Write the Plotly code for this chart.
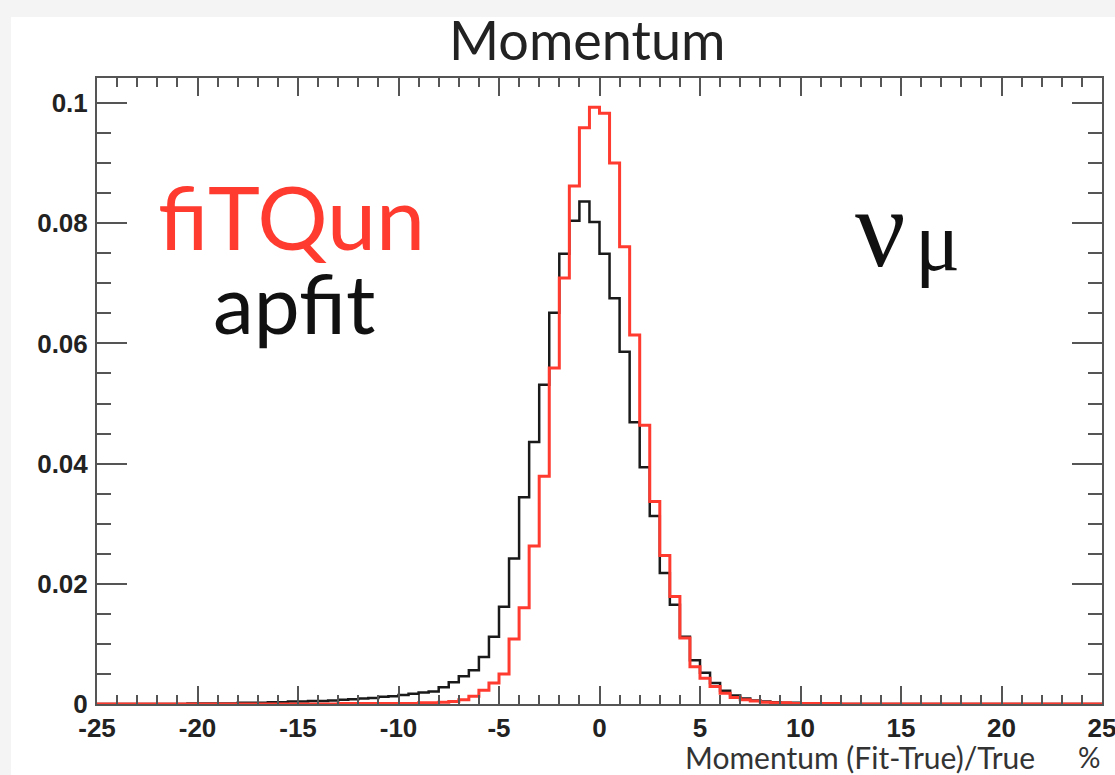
import numpy as np
import plotly.graph_objects as go

# ---------------- data ----------------
bin_width = 0.5
bin_low = list(np.arange(-25.0, 25.0, bin_width))  # 100 bins, -25 .. 25

# fiTQun (red) bin contents, keyed by bin low edge
fitqun_core = {
    -13.0: 0.0001, -12.5: 0.0001, -12.0: 0.0001, -11.5: 0.0001, -11.0: 0.0001,
    -10.5: 0.0001, -10.0: 0.0001, -9.5: 0.0001, -9.0: 0.0002, -8.5: 0.0002,
    -8.0: 0.0003, -7.5: 0.0004, -7.0: 0.0007, -6.5: 0.0013, -6.0: 0.0023,
    -5.5: 0.0035, -5.0: 0.0050, -4.5: 0.0108, -4.0: 0.0160, -3.5: 0.0263,
    -3.0: 0.0379, -2.5: 0.0559, -2.0: 0.0709, -1.5: 0.0862, -1.0: 0.0959,
    -0.5: 0.0993, 0.0: 0.0983, 0.5: 0.0900, 1.0: 0.0761, 1.5: 0.0614,
    2.0: 0.0464, 2.5: 0.0337, 3.0: 0.0247, 3.5: 0.0179, 4.0: 0.0110,
    4.5: 0.0062, 5.0: 0.0043, 5.5: 0.0029, 6.0: 0.0018, 6.5: 0.0011,
    7.0: 0.0007, 7.5: 0.0005, 8.0: 0.0003, 8.5: 0.0002, 9.0: 0.0002,
    9.5: 0.0001, 10.0: 0.0001, 10.5: 0.0001, 11.0: 0.0001, 11.5: 0.0001,
}

# apfit (black) bin contents, keyed by bin low edge
apfit_core = {
    -20.5: 0.0001, -20.0: 0.0001, -19.5: 0.0001, -19.0: 0.0001, -18.5: 0.0001,
    -18.0: 0.0002, -17.5: 0.0002, -17.0: 0.0002, -16.5: 0.0003, -16.0: 0.0003,
    -15.5: 0.0004, -15.0: 0.0004, -14.5: 0.0005, -14.0: 0.0005, -13.5: 0.0006,
    -13.0: 0.0007, -12.5: 0.0008, -12.0: 0.0009, -11.5: 0.0010, -11.0: 0.0012,
    -10.5: 0.0013, -10.0: 0.0015, -9.5: 0.0017, -9.0: 0.0019, -8.5: 0.0021,
    -8.0: 0.0028, -7.5: 0.0036, -7.0: 0.0046, -6.5: 0.0056, -6.0: 0.0078,
    -5.5: 0.0112, -5.0: 0.0162, -4.5: 0.0242, -4.0: 0.0344, -3.5: 0.0436,
    -3.0: 0.0531, -2.5: 0.0651, -2.0: 0.0749, -1.5: 0.0804, -1.0: 0.0836,
    -0.5: 0.0802, 0.0: 0.0749, 0.5: 0.0675, 1.0: 0.0586, 1.5: 0.0469,
    2.0: 0.0394, 2.5: 0.0313, 3.0: 0.0218, 3.5: 0.0165, 4.0: 0.0112,
    4.5: 0.0073, 5.0: 0.0052, 5.5: 0.0035, 6.0: 0.0022, 6.5: 0.0014,
    7.0: 0.0009, 7.5: 0.0006, 8.0: 0.0004, 8.5: 0.0003, 9.0: 0.0002,
    9.5: 0.0002, 10.0: 0.0001, 10.5: 0.0001, 11.0: 0.0001, 11.5: 0.0001,
}

fitqun_vals = [fitqun_core.get(round(b, 1), 0.0) for b in bin_low]
apfit_vals = [apfit_core.get(round(b, 1), 0.0) for b in bin_low]

x_tick_vals = [-25, -20, -15, -10, -5, 0, 5, 10, 15, 20, 25]
x_tick_text = ["-25", "-20", "-15", "-10", "-5", "0", "5", "10", "15", "20", "25"]
y_tick_vals = [0, 0.02, 0.04, 0.06, 0.08, 0.1]
y_tick_text = ["0", "0.02", "0.04", "0.06", "0.08", "0.1"]

# ---------------- layout geometry (pixels) ----------------
W, H = 1115, 775
L, R, T, B = 97, 1102, 78, 704
RED = "#ff3b30"


def px(xp):
    return (xp - L) / (R - L)


def py(yp):
    return (B - yp) / (B - T)


edges = bin_low + [bin_low[-1] + bin_width]

fig = go.Figure()
fig.add_trace(go.Scatter(
    x=edges, y=apfit_vals + [apfit_vals[-1]], mode="lines",
    line=dict(color="#1a1a1a", width=2.5, shape="hv"), hoverinfo="skip",
    showlegend=False))
fig.add_trace(go.Scatter(
    x=edges, y=fitqun_vals + [fitqun_vals[-1]], mode="lines",
    line=dict(color=RED, width=3, shape="hv"), hoverinfo="skip",
    showlegend=False))

tick_font = dict(family="Liberation Sans, Arial, sans-serif", size=26,
                 color="#222222", weight="bold")
axis_col = "#555555"

fig.update_xaxes(
    range=[-25.0001, 25.0001], showgrid=False, zeroline=False, automargin=False,
    showline=True, linecolor=axis_col, linewidth=2, mirror="allticks",
    ticks="inside", ticklen=18, tickwidth=1.5, tickcolor=axis_col,
    tickvals=x_tick_vals, ticktext=x_tick_text, tickfont=tick_font,
    ticklabeloverflow="allow",
    minor=dict(dtick=1, tick0=0, ticks="inside", ticklen=9, tickwidth=1.5,
               tickcolor=axis_col, showgrid=False),
)
fig.update_yaxes(
    range=[0, (B - T) / 6010.0], showgrid=False, zeroline=False, automargin=False,
    showline=True, linecolor=axis_col, linewidth=2, mirror="allticks",
    ticks="inside", ticklen=30, tickwidth=1.5, tickcolor=axis_col,
    tickvals=y_tick_vals, ticktext=y_tick_text, tickfont=tick_font,
    ticklabelstandoff=2,
    minor=dict(dtick=0.005, tick0=0, ticks="inside", ticklen=14, tickwidth=1.5,
               tickcolor=axis_col, showgrid=False),
)

title_font = "Lato, 'Open Sans', sans-serif"
annotations = [
    dict(text="Momentum", x=px(587), y=py(39), xanchor="center", yanchor="middle",
         font=dict(family=title_font, size=54, color="#222222")),
    dict(text="Momentum (Fit-True)/True", x=px(1037), y=py(757), xanchor="right",
         yanchor="middle", font=dict(family=title_font, size=30, color="#333333")),
    dict(text="%", x=px(1102), y=py(757), xanchor="right", yanchor="middle",
         font=dict(family=title_font, size=28, color="#333333")),
    dict(text="fiTQun", x=px(156), y=py(216), xanchor="left", yanchor="middle",
         font=dict(family=title_font, size=88, color=RED)),
    dict(text="apfit", x=px(211), y=py(302), xanchor="left", yanchor="middle",
         font=dict(family=title_font, size=82, color="#111111")),
    dict(text="ν", x=px(853), y=py(228), xanchor="left", yanchor="middle",
         font=dict(family="Liberation Serif", size=112, color="#111111")),
    dict(text="μ", x=px(913), y=py(242), xanchor="left", yanchor="middle",
         font=dict(family="Liberation Serif", size=84, color="#111111")),
]
for a in annotations:
    a.update(xref="paper", yref="paper", showarrow=False)

fig.update_layout(
    width=W, height=H,
    margin=dict(l=L, r=W - R, t=T, b=H - B, pad=0, autoexpand=False),
    paper_bgcolor="#f4f4f4", plot_bgcolor="white",
    annotations=annotations,
    shapes=[dict(type="rect", xref="paper", yref="paper", layer="below",
                 x0=px(11), x1=px(W + 5), y0=py(H + 5), y1=py(17),
                 fillcolor="white", line=dict(width=0))],
)

fig.write_html("out.html")
